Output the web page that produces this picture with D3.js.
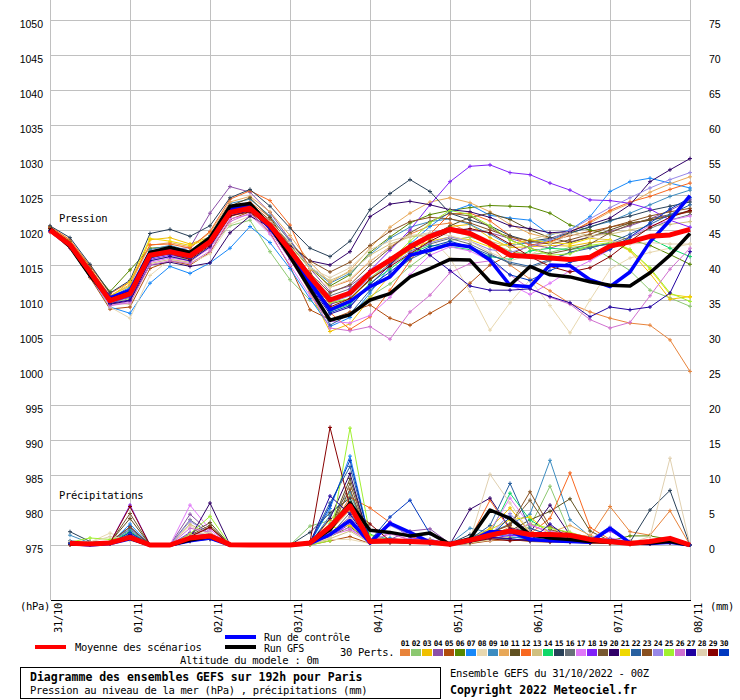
<!DOCTYPE html>
<html><head><meta charset="utf-8">
<script src="https://cdn.jsdelivr.net/npm/d3@7"></script>
<style>
body{margin:0;background:#fff}
svg{display:block}
text{font-family:"DejaVu Sans Mono",monospace;fill:#000}
</style>
</head><body><svg id="c" width="740" height="700"></svg>
<script>
// ---------- DATA ----------
const steps = [0,6,12,18,24,30,36,42,48,54,60,66,72,78,84,90,96,102,108,114,120,126,132,138,144,150,156,162,168,174,180,186,192];
const dayHours = [0,24,48,72,96,120,144,168,192];
const dayLabels = ["31/10","01/11","02/11","03/11","04/11","05/11","06/11","07/11","08/11"];
const leftTicks = [975,980,985,990,995,1000,1005,1010,1015,1020,1025,1030,1035,1040,1045,1050];
const rightTicks = [0,5,10,15,20,25,30,35,40,45,50,55,60,65,70,75];
const pertNames = ["01","02","03","04","05","06","07","08","09","10","11","12","13","14","15","16","17","18","19","20","21","22","23","24","25","26","27","28","29","30"];
const pertColors = ["#e8833a","#8cc870","#f0c000","#8c50a8","#b04c0c","#588800","#1888f8","#e8d8b0","#3c8cc0","#e8a858","#605020","#f86820","#d0c080","#10d868","#284058","#687078","#e078f8","#8020f8","#785830","#300068","#f0d800","#2860a0","#885020","#9888e8","#a0f030","#d070d0","#2000a0","#e0d0b0","#880000","#0038c0"];

const meanPressure = [1020.0,1017.9,1014.0,1009.9,1010.9,1016.4,1016.9,1016.3,1018.3,1022.5,1023.1, 1020.7,1017.1,1013.3,1010.0,1011.0,1013.9,1015.7,1017.6,1019.1,1020.1,1019.5, 1018.1,1016.4,1016.2,1016.0,1015.8,1016.1,1017.7,1018.3,1019.1,1019.3,1020.1];
const controlPressure = [1020.1,1017.8,1013.7,1010.3,1011.4,1016.8,1017.3,1016.6,1018.6,1023.0,1023.5, 1020.4,1016.5,1012.5,1008.6,1009.8,1011.9,1013.3,1016.4,1017.1,1018.0,1017.6, 1015.7,1012.1,1011.9,1015.0,1014.9,1012.9,1011.9,1014.0,1018.3,1021.4,1024.9];
const gfsPressure = [1020.2,1017.6,1013.5,1010.0,1011.0,1016.8,1017.5,1016.8,1018.9,1023.4,1023.8, 1020.6,1016.2,1011.6,1007.1,1007.9,1010.0,1010.9,1013.3,1014.5,1015.8,1015.7, 1012.6,1012.1,1014.8,1013.6,1013.3,1012.6,1012.1,1012.0,1013.9,1016.4,1019.5];

const pertPressure = [
 [1020.3,1018.2,1014.3,1010.2,1011.5,1017.0,1017.5,1017.0,1019.0,1023.2,1024.0, 1021.8,1018.5,1014.8,1011.8,1012.8,1015.5,1017.6,1019.4,1020.6,1021.0,1019.6, 1017.8,1015.0,1013.0,1011.3,1009.5,1008.3,1007.4,1006.7,1006.4,1004.3,999.8],
 [1019.8,1017.6,1013.8,1009.6,1010.2,1015.6,1016.2,1015.8,1017.6,1020.6,1021.4, 1016.9,1012.9,1010.0,1007.2,1008.0,1010.5,1012.3,1014.8,1016.9,1018.5,1019.0, 1018.2,1017.0,1016.5,1016.8,1017.5,1017.8,1016.0,1014.2,1011.4,1010.3,1009.1],
 [1020.1,1018.1,1014.5,1010.6,1012.0,1018.6,1018.9,1018.0,1019.0,1022.8,1023.0, 1020.4,1016.2,1011.0,1005.5,1006.6,1010.2,1013.5,1016.0,1018.6,1020.5,1020.8, 1018.9,1017.5,1017.6,1017.8,1017.7,1018.2,1018.5,1017.0,1013.8,1010.1,1010.5],
 [1019.9,1017.7,1013.6,1009.4,1010.6,1016.5,1017.2,1017.5,1022.4,1026.2,1025.4, 1022.5,1018.6,1014.5,1011.2,1012.0,1014.2,1016.0,1017.8,1019.5,1020.3,1020.0, 1019.6,1018.8,1018.0,1017.4,1018.3,1019.0,1019.8,1020.6,1021.6,1022.8,1024.3],
 [1019.7,1017.4,1013.2,1008.7,1009.0,1014.5,1015.6,1015.0,1016.8,1021.5,1022.6, 1019.6,1014.8,1008.6,1007.2,1008.3,1009.3,1007.4,1006.4,1008.1,1009.7,1012.4, 1015.0,1016.5,1017.8,1018.4,1019.2,1019.8,1020.4,1021.0,1021.4,1022.0,1022.6],
 [1020.3,1018.4,1014.8,1011.2,1014.3,1017.4,1017.6,1016.8,1018.2,1022.0,1022.8, 1020.9,1017.8,1014.6,1012.0,1013.6,1016.8,1019.0,1021.0,1022.2,1022.8,1023.2, 1023.5,1023.4,1023.3,1022.4,1020.7,1020.0,1019.4,1018.6,1017.8,1016.5,1015.1],
 [1019.9,1017.5,1013.4,1009.0,1008.1,1012.4,1014.8,1013.8,1015.3,1017.4,1020.5, 1018.2,1014.5,1010.2,1006.2,1007.5,1011.0,1014.8,1018.0,1020.5,1022.6,1023.6, 1022.1,1021.7,1021.4,1019.3,1020.0,1021.9,1025.5,1026.9,1027.4,1026.7,1026.0],
 [1020.0,1017.8,1013.6,1009.0,1007.4,1013.5,1015.8,1015.2,1016.6,1020.8,1022.0, 1019.9,1016.6,1013.4,1011.8,1013.0,1015.6,1017.5,1019.2,1019.0,1016.0,1011.2, 1005.7,1009.6,1012.9,1009.2,1005.3,1010.0,1014.4,1016.0,1016.8,1017.4,1018.0],
 [1020.2,1018.0,1014.2,1010.4,1011.8,1017.2,1017.8,1017.0,1019.2,1023.8,1024.4, 1022.0,1018.4,1014.8,1012.4,1013.8,1016.5,1018.8,1020.4,1021.2,1021.6,1020.8, 1019.4,1017.8,1018.2,1018.6,1019.5,1020.5,1021.2,1022.4,1023.6,1024.8,1025.7],
 [1020.4,1018.5,1014.6,1010.6,1012.2,1017.8,1018.2,1017.6,1019.6,1024.0,1024.8, 1022.6,1019.2,1015.4,1012.5,1014.2,1017.4,1020.4,1022.4,1024.0,1024.6,1023.9, 1022.6,1020.8,1019.5,1018.8,1019.8,1021.0,1022.6,1023.8,1025.4,1026.6,1027.6],
 [1020.0,1017.9,1014.0,1009.8,1010.4,1016.0,1016.8,1016.2,1018.6,1023.4,1024.6, 1021.8,1017.6,1013.0,1009.4,1010.2,1012.8,1015.2,1017.2,1019.0,1020.6,1021.8, 1022.4,1021.5,1020.0,1018.9,1018.2,1019.0,1020.0,1021.0,1021.4,1022.0,1022.8],
 [1020.5,1018.6,1014.9,1010.9,1012.6,1017.9,1018.0,1017.4,1019.8,1024.4,1025.6, 1024.2,1020.7,1014.2,1008.2,1005.8,1007.6,1011.4,1015.6,1019.4,1022.3,1022.4, 1021.3,1019.2,1017.8,1018.2,1019.6,1021.2,1022.8,1024.0,1024.8,1025.8,1026.7],
 [1019.8,1017.6,1013.8,1009.6,1009.4,1015.2,1015.8,1015.4,1017.6,1021.8,1023.2, 1021.0,1017.8,1014.4,1012.8,1014.0,1016.4,1018.0,1019.0,1019.4,1019.8,1019.2, 1018.4,1017.6,1018.6,1019.4,1019.8,1019.2,1019.4,1020.0,1020.6,1020.8,1021.2],
 [1020.1,1018.0,1014.1,1010.2,1011.6,1016.9,1017.4,1016.8,1018.4,1022.6,1023.3, 1020.6,1016.4,1012.2,1008.4,1009.4,1012.4,1014.4,1016.6,1017.8,1017.6,1017.2, 1016.2,1015.8,1017.0,1017.4,1017.2,1017.6,1018.0,1018.6,1018.8,1017.4,1016.2],
 [1020.6,1018.9,1015.1,1011.0,1012.8,1019.5,1020.1,1019.1,1020.6,1024.6,1025.8, 1023.4,1020.3,1017.4,1016.2,1018.4,1022.9,1025.2,1027.2,1025.5,1022.4,1021.4, 1020.6,1019.2,1018.4,1018.8,1019.6,1020.4,1021.4,1022.0,1022.8,1023.4,1024.0],
 [1019.9,1017.8,1013.9,1010.0,1011.0,1016.2,1016.6,1016.0,1018.0,1022.2,1023.0, 1020.8,1017.2,1013.6,1010.6,1011.6,1014.2,1015.8,1017.0,1018.0,1018.8,1018.0, 1016.6,1015.2,1014.6,1015.6,1016.8,1017.6,1018.0,1019.0,1020.2,1021.4,1022.2],
 [1019.8,1017.5,1013.5,1009.2,1009.8,1015.4,1016.0,1015.6,1017.4,1021.6,1022.2, 1019.4,1015.0,1010.6,1007.0,1006.7,1007.8,1010.4,1013.6,1016.4,1017.6,1017.0, 1015.6,1012.2,1010.8,1012.4,1014.2,1015.6,1017.2,1019.0,1020.6,1021.4,1022.0],
 [1019.9,1017.7,1013.9,1009.7,1010.4,1015.8,1016.4,1015.9,1018.0,1022.6,1023.6, 1020.2,1016.0,1011.8,1009.2,1011.4,1014.2,1017.1,1020.0,1023.6,1026.9,1029.1, 1029.3,1028.2,1027.9,1026.7,1025.7,1024.3,1024.2,1023.8,1023.0,1021.4,1020.4],
 [1020.2,1018.1,1014.3,1010.3,1011.2,1016.6,1017.0,1016.4,1018.4,1022.6,1023.4, 1021.2,1017.6,1013.8,1011.0,1012.2,1015.0,1017.4,1019.6,1021.2,1022.4,1022.0, 1020.4,1018.6,1017.4,1016.6,1017.2,1018.0,1019.6,1020.8,1021.6,1022.2,1022.6],
 [1019.8,1017.6,1013.6,1009.4,1009.9,1015.0,1015.4,1014.8,1015.3,1019.6,1022.0, 1020.4,1017.8,1015.6,1015.0,1016.9,1021.9,1023.7,1024.1,1023.6,1022.9,1022.6, 1021.8,1020.6,1020.2,1019.6,1019.8,1020.8,1021.7,1023.6,1026.9,1028.6,1030.2],
 [1020.1,1018.0,1014.2,1010.4,1012.6,1018.8,1018.4,1017.8,1018.8,1022.4,1022.8, 1020.2,1016.6,1012.4,1008.8,1010.0,1013.0,1015.0,1017.2,1018.4,1019.0,1018.6, 1017.6,1018.0,1018.6,1018.2,1018.0,1018.8,1018.6,1017.2,1014.4,1010.8,1010.4],
 [1020.0,1017.8,1013.8,1009.8,1010.6,1016.2,1016.8,1016.2,1018.2,1022.8,1023.6, 1020.8,1016.8,1012.4,1006.4,1008.0,1011.4,1013.6,1015.8,1017.2,1018.0,1017.6, 1016.4,1015.4,1014.8,1015.8,1016.8,1017.4,1018.2,1019.4,1020.8,1022.2,1023.6],
 [1020.3,1018.3,1014.5,1010.5,1011.4,1016.8,1017.2,1016.6,1018.6,1023.0,1023.8, 1021.4,1018.0,1015.6,1014.0,1015.4,1017.8,1019.8,1021.2,1021.8,1021.6,1021.0, 1020.0,1019.0,1018.4,1018.0,1018.6,1019.4,1020.4,1021.2,1022.0,1022.6,1023.1],
 [1019.9,1017.8,1013.8,1009.6,1010.8,1016.4,1017.0,1016.4,1018.4,1022.6,1023.2, 1020.6,1016.8,1012.6,1009.6,1010.6,1013.2,1015.0,1016.8,1018.2,1019.0,1018.4, 1017.2,1016.8,1017.6,1018.6,1020.0,1021.6,1023.2,1024.6,1026.0,1027.2,1028.2],
 [1020.2,1018.2,1014.0,1010.0,1011.2,1016.8,1017.4,1016.6,1018.6,1022.8,1023.2, 1020.4,1016.6,1012.6,1009.6,1010.2,1013.0,1015.6,1018.4,1021.0,1022.8,1022.2, 1020.6,1018.6,1017.4,1016.4,1016.6,1017.8,1018.2,1017.2,1014.6,1011.0,1009.8],
 [1019.7,1017.4,1013.4,1009.2,1009.6,1015.0,1015.6,1015.2,1017.0,1021.2,1022.4, 1019.8,1015.8,1011.2,1006.0,1005.6,1006.2,1004.4,1008.3,1010.7,1013.9,1015.2, 1015.6,1013.6,1011.6,1010.4,1009.4,1007.2,1006.0,1006.8,1010.6,1014.4,1017.4],
 [1020.0,1017.7,1013.7,1009.5,1010.0,1015.6,1016.2,1015.6,1017.6,1022.0,1022.8, 1020.0,1016.2,1012.0,1008.0,1009.0,1012.2,1015.0,1017.8,1016.4,1014.2,1012.0, 1011.4,1011.4,1011.6,1010.5,1009.6,1007.6,1009.0,1008.6,1009.0,1011.0,1016.9],
 [1020.1,1018.0,1014.2,1010.1,1010.8,1016.6,1017.2,1016.6,1018.4,1022.4,1023.0, 1021.2,1018.2,1014.6,1013.2,1014.6,1017.2,1018.4,1019.2,1019.6,1019.2,1018.4, 1016.8,1015.6,1016.4,1018.0,1019.4,1019.0,1018.4,1018.0,1018.2,1018.0,1018.0],
 [1020.2,1018.1,1014.1,1010.0,1010.8,1016.4,1016.6,1015.8,1017.8,1022.0,1022.6, 1020.4,1016.8,1012.8,1009.0,1010.2,1013.0,1014.8,1016.6,1018.4,1019.8,1020.2, 1019.6,1018.0,1016.2,1014.8,1014.0,1014.6,1016.2,1018.4,1020.4,1021.8,1022.8],
 [1019.9,1017.7,1013.7,1009.7,1010.6,1016.0,1016.6,1016.0,1018.0,1022.4,1023.2, 1020.6,1016.6,1012.4,1008.2,1009.2,1012.0,1014.0,1016.2,1017.6,1018.4,1017.6, 1016.0,1013.6,1012.8,1014.2,1015.4,1016.0,1017.2,1019.0,1021.0,1023.0,1024.6]
];

// precipitation (mm), from +6h to +192h
const meanPrecip = [0.25,0.15,0.3,1.1,0,0,1.0,1.3, 0.05,0,0,0,0.3,2.6,5.6,0.5, 0.6,0.5,0.4,0.1,0.7,1.4,2.0,1.5, 1.5,1.4,0.8,0.5,0.2,0.5,0.95,0];
const controlPrecip = [0.2,0,0.2,0.9,0,0,0.6,1.0, 0,0,0,0,0.2,1.5,3.5,0.3, 3.1,1.8,0.4,0.1,0.6,1.9,1.9,0.8, 0.6,0.5,0.4,2.4,0.3,0.2,0.4,0];
const gfsPrecip = [0.1,0.1,0.3,1.0,0,0,0.7,1.2, 0,0,0,0,0.3,2.2,6.0,2.1, 1.8,1.3,1.7,0.1,0.9,5.0,3.8,1.5, 1.0,0.8,0.5,0.6,0.2,0.3,0.5,0];
const pertPrecip = [
 [0.3,0.2,0.4,1.2,0,0,0.8,1.5, 0,0,0,0,0.2,2.0,5.0,0.6, 0.4,0.3,0.5,0.1,0.6,1.4,2.2,2.0, 0.8,1.6,1.2,5.5,1.9,1.4,4.9,0],
 [0.2,0.1,0.3,0.9,0,0,0.6,1.4, 0,0,0,0,2.7,3.5,7.2,0.8, 0.5,0.4,0.6,0,0.4,1.0,1.8,2.6, 8.4,1.6,0.8,0.4,0.3,0.2,0.3,0],
 [0.1,0.2,0.5,1.4,0,0,0.9,1.1, 0,0,0,0,0.3,3.6,5.8,0.4, 0.6,0.5,0.3,0.1,0.8,2.4,5.3,1.8, 1.2,0.9,0.5,0.3,0.2,0.6,0.8,0],
 [0.2,0.3,0.4,2.2,0,0,4.4,1.8, 0,0,0,0,0.1,1.6,4.0,0.3, 0.8,2.0,2.3,0.2,0.5,1.2,1.6,1.4, 1.0,0.8,0.6,0.8,0.3,0.2,0.5,0],
 [0,0.1,0.2,0.8,0,0,0.5,0.9, 0,0,0,0,0,0.6,1.2,0.2, 0.3,0.2,0.4,0,0.2,0.6,0.8,0.5, 0.4,0.6,0.3,0.2,0.1,0.3,0.4,0],
 [0.3,0.2,0.3,1.6,0,0,0.7,1.2, 0,0,0,0,0.4,1.2,2.6,0.5, 0.7,0.4,0.6,0.1,0.3,0.8,1.0,1.2, 0.6,0.5,0.7,0.6,1.3,1.3,0.8,0],
 [0.5,0.2,0.2,3.0,0,0,1.2,1.6, 0,0,0,0,0.3,5.2,12.7,0.6, 1.0,0.5,0.4,0.1,0.6,1.6,1.2,0.8, 1.4,0.9,0.4,0.7,0.3,0.4,0.6,0],
 [0.2,0.4,1.7,0.6,0,0,2.8,1.0, 0,0,0,0,0,0.8,0.8,0.2, 0.4,0.3,0.2,0,0.3,0.7,0.9,0.6, 0.8,1.8,1.0,0.5,0.2,0.3,0.4,0],
 [1.4,0.3,0.2,2.4,0,0,1.4,1.3, 0,0,0,0,0.2,4.2,7.6,0.4, 0.6,0.8,0.6,0.2,2.4,1.8,3.0,4.4, 12.1,3.6,1.2,0.6,0.4,0.3,0.5,0],
 [0.3,0.2,0.3,1.8,0,0,1.0,0.9, 0,0,0,0,0.1,1.8,3.4,0.7, 0.5,0.3,0.8,0.1,0.4,1.2,2.6,1.6, 1.8,2.8,1.4,0.5,0.6,0.4,0.8,0],
 [0.2,0.1,0.4,3.8,0,0,1.6,3.2, 0,0,0,0,0.2,2.4,9.5,0.6, 0.4,0.3,0.5,0,0.8,1.4,2.0,3.6, 4.8,6.6,2.0,0.6,0.3,0.2,0.4,0],
 [0.2,0.3,0.2,1.4,0,0,0.8,1.2, 0,0,0,0,0,2.2,6.8,5.3, 3.2,1.2,0.6,0.1,0.9,6.4,2.2,1.6, 3.8,10.3,2.5,0.8,0.4,0.3,0.6,0],
 [0.1,0.2,0.6,1.0,0,0,3.0,1.4, 0,0,0,0,0.1,0.9,2.0,0.3, 0.4,0.6,0.4,0.1,0.3,0.9,1.2,2.4, 1.4,0.8,0.6,0.4,0.2,0.5,0.7,0],
 [0.3,0.4,0.3,2.0,0,0,1.2,1.0, 0,0,0,0,0.4,3.0,6.2,1.5, 0.8,0.4,0.5,0,0.4,1.6,7.4,3.6, 1.8,1.4,0.8,0.6,0.3,0.4,0.5,0],
 [1.9,0.5,0.3,1.6,0,0,0.6,0.8, 0,0,0,0,1.8,4.6,6.7,0.4, 0.5,0.3,0.4,0.2,1.5,1.2,0.8,0.6, 0.5,0.4,0.3,0.6,0.4,5.0,7.8,0],
 [0.4,0.2,0.2,1.2,0,0,3.6,1.6, 0,0,0,0,0.3,1.4,4.6,0.5, 0.6,0.4,0.3,0.1,0.5,1.0,0.7,0.9, 1.2,1.0,0.5,0.4,0.2,0.3,0.5,0],
 [0.2,0.3,0.2,0.9,0,0,5.7,2.2, 0,0,0,0,0.1,1.8,2.4,0.4, 1.8,0.6,0.5,0.1,0.6,2.0,6.7,2.8, 2.0,1.2,0.6,1.0,0.5,0.4,0.6,0],
 [0.3,0.2,0.3,5.7,0,0,1.8,1.4, 0,0,0,0,0.2,1.2,3.0,0.6, 3.3,1.0,0.8,0.2,0.5,0.9,1.4,1.1, 1.3,1.0,0.7,2.0,0.4,0.3,0.5,0],
 [0.2,0.1,0.3,4.5,0,0,1.4,2.8, 0,0,0,0,0.2,2.2,8.8,0.5, 0.4,0.3,0.6,0,0.6,1.6,3.0,6.4, 2.2,1.4,0.8,0.4,0.2,0.3,0.4,0],
 [0.1,0.2,0.4,2.6,0,0,1.0,6.0, 0,0,0,0,0.3,3.8,10.2,0.3, 0.5,0.4,0.2,0.1,5.1,6.7,2.4,1.8, 5.7,1.4,0.6,0.5,0.2,0.3,0.4,0],
 [0.2,0.3,0.2,1.3,0,0,1.1,1.0, 0,0,0,0,0.2,2.4,2.8,0.4, 0.6,0.5,0.7,0.1,0.9,2.2,3.6,4.0, 1.6,1.0,0.5,0.4,0.3,0.2,0.6,0],
 [0.6,0.3,0.2,1.8,0,0,0.8,1.2, 0,0,0,0,0.4,6.0,11.2,0.8, 0.6,0.4,0.5,0.2,0.8,2.8,8.8,2.4, 1.4,0.8,0.5,0.9,0.3,0.4,0.5,0],
 [0.3,0.2,0.4,2.6,0,0,1.2,2.6, 0,0,0,0,0.1,2.0,8.0,0.4, 0.5,0.6,0.4,0,0.6,1.8,2.8,7.6, 2.6,1.6,0.7,0.4,0.3,0.2,0.4,0],
 [0.2,0.3,0.5,1.6,0,0,3.4,1.6, 0,0,0,0,0.1,1.6,3.2,0.6, 2.8,1.4,1.8,0.2,0.6,1.4,4.5,1.4, 1.2,0.9,0.8,2.6,0.4,0.6,0.8,0],
 [0.4,1.0,0.8,1.4,0,0,1.6,4.1, 0,0,0,0,0,0.6,16.7,1.4, 0.5,0.3,0.6,0.1,0.4,1.2,2.0,3.0, 2.4,1.8,1.0,0.5,0.3,0.4,0.5,0],
 [0.2,0.2,0.3,1.1,0,0,2.4,1.8, 0,0,0,0,0.2,1.4,2.2,0.5, 1.6,0.8,0.6,0.1,0.6,1.6,2.0,3.0, 1.6,1.4,0.9,0.8,0.4,0.5,0.9,0],
 [0.3,0.1,0.2,1.5,0,0,0.6,0.9, 0,0,0,0,0.3,7.0,4.4,0.3, 0.4,0.3,0.2,0.1,0.4,1.1,0.9,0.6, 3.0,0.8,0.4,0.5,0.3,0.2,0.6,0],
 [0.5,0.4,1.2,0.8,0,0,1.4,1.8, 0,0,0,0,0.2,1.0,3.8,0.4, 0.6,0.4,0.3,0.1,0.8,10.1,6.0,1.8, 0.8,0.6,0.4,0.6,0.3,1.2,12.4,0],
 [0.1,0.2,0.3,5.5,0,0,1.2,2.5, 0,0,0,0,0.4,16.8,5.4,3.0, 0.6,0.4,0.3,0,0.4,0.9,0.6,0.8, 0.5,0.4,0.3,0.2,0.1,0.2,0.3,0],
 [0.2,0.1,0.2,1.8,0,0,0.7,1.1, 0,0,0,0,0.3,5.6,12.1,0.6, 4.0,6.4,1.6,0.2,0.6,1.2,4.0,1.6, 1.0,0.6,0.4,0.5,0.3,0.4,0.6,0]
];

// ---------- CHART ----------
const svg = d3.select("#c");
const x = d3.scaleLinear().domain([0,192]).range([50,690]);
const yP = d3.scaleLinear().domain([975,1050]).range([545,20]);
const yR = d3.scaleLinear().domain([0,75]).range([545,20]);
const GRID = "#c0c0c0";

// horizontal grid
const hg = svg.append("g").attr("transform","translate(50,0)")
  .call(d3.axisLeft(yP).tickValues(leftTicks).tickSize(-640).tickFormat(""));
hg.select(".domain").remove();
hg.selectAll("line").attr("stroke",GRID).attr("shape-rendering","crispEdges");

// vertical grid + bottom axis line
const vg = svg.append("g").attr("transform","translate(0,600)")
  .call(d3.axisBottom(x).tickValues(dayHours).tickSize(-600).tickSizeOuter(0).tickFormat(""));
vg.selectAll(".tick line").attr("stroke",GRID).attr("shape-rendering","crispEdges");
vg.select(".domain").attr("stroke","#000").attr("shape-rendering","crispEdges");

// left labels
const la = svg.append("g").attr("transform","translate(50,0)")
  .call(d3.axisLeft(yP).tickValues(leftTicks).tickSize(0).tickPadding(7).tickFormat(d3.format("d")));
la.select(".domain").remove();
la.selectAll("text").attr("dy","0.72em").style("font-family","'Liberation Sans',Arial,sans-serif").style("font-size","10.5px");
// right labels
const ra = svg.append("g").attr("transform","translate(690,0)")
  .call(d3.axisRight(yR).tickValues(rightTicks).tickSize(0).tickPadding(19).tickFormat(d3.format("d")));
ra.select(".domain").remove();
ra.selectAll("text").attr("dy","0.72em").style("font-family","'Liberation Sans',Arial,sans-serif").style("font-size","10.5px");

// date labels
svg.append("g").selectAll("text").data(dayHours).join("text")
  .attr("transform",d=>`translate(${x(d)+11.5},603) rotate(-90)`)
  .attr("text-anchor","end")
  .style("font-size","10.5px").style("letter-spacing","-0.3px")
  .text((d,i)=>dayLabels[i]);

const mono = (sel,size)=>sel.style("font-size",(size||10.5)+"px").style("letter-spacing","-0.3px");
mono(svg.append("text").attr("x",20).attr("y",609.5).text("(hPa)"));
mono(svg.append("text").attr("x",710).attr("y",609.5).text("(mm)"));
mono(svg.append("text").attr("x",59).attr("y",221.5).text("Pression"));
mono(svg.append("text").attr("x",59).attr("y",498.5).text("Précipitations"));

// lines
const lineP = d3.line().x((d,i)=>x(steps[i])).y(d=>yP(d));
const lineR = d3.line().x((d,i)=>x(steps[i+1])).y(d=>yR(d));
const cross = (px,py)=>`M${px-2},${py}H${px+2}M${px},${py-2}V${py+2}`;

const gm = svg.append("g");
pertPressure.forEach((arr,k)=>{
  gm.append("path").attr("d",lineP(arr)).attr("fill","none").attr("stroke",pertColors[k]).attr("stroke-width",1);
  gm.append("path").attr("d",arr.map((v,i)=>cross(x(steps[i]),yP(v))).join("")).attr("fill","none").attr("stroke",pertColors[k]).attr("stroke-width",1);
});
pertPrecip.forEach((arr,k)=>{
  gm.append("path").attr("d",lineR(arr)).attr("fill","none").attr("stroke",pertColors[k]).attr("stroke-width",1);
  gm.append("path").attr("d",arr.map((v,i)=>cross(x(steps[i+1]),yR(v))).join("")).attr("fill","none").attr("stroke",pertColors[k]).attr("stroke-width",1);
});

const thick = (d,color,w)=>svg.append("path").attr("d",d).attr("fill","none").attr("stroke",color).attr("stroke-width",w).attr("stroke-linejoin","round");
thick(lineP(controlPressure),"#0000ff",3.5);
thick(lineR(controlPrecip),"#0000ff",3.5);
thick(lineP(gfsPressure),"#000000",3.5);
thick(lineR(gfsPrecip),"#000000",3.5);
thick(lineP(meanPressure),"#ff0000",5);
thick(lineR(meanPrecip),"#ff0000",5);

// legend
svg.append("rect").attr("x",35).attr("y",645).attr("width",31).attr("height",4).attr("fill","#ff0000");
mono(svg.append("text").attr("x",75).attr("y",651).text("Moyenne des scénarios"));
svg.append("rect").attr("x",225).attr("y",635).attr("width",31).attr("height",4).attr("fill","#0000ff");
svg.append("rect").attr("x",225).attr("y",645).attr("width",31).attr("height",4).attr("fill","#000000");
mono(svg.append("text").attr("x",264).attr("y",640.5).text("Run de contrôle"),10);
mono(svg.append("text").attr("x",264).attr("y",651.5).text("Run GFS"),10);
mono(svg.append("text").attr("x",340).attr("y",656).text("30 Perts."));
mono(svg.append("text").attr("x",180).attr("y",664).text("Altitude du modele : 0m"));

const pl = svg.append("g");
pl.selectAll("rect").data(pertColors).join("rect")
  .attr("x",(d,i)=>400+i*11).attr("y",649).attr("width",10).attr("height",7).attr("fill",d=>d);
pl.selectAll("text").data(pertNames).join("text")
  .attr("x",(d,i)=>405+i*11).attr("y",646).attr("text-anchor","middle")
  .style("font-size","7.6px").style("font-weight","bold").style("letter-spacing","-0.2px").text(d=>d);

// title box
svg.append("rect").attr("x",20.5).attr("y",667.5).attr("width",420).attr("height",31).attr("fill","none").attr("stroke","#000").attr("shape-rendering","crispEdges");
svg.append("text").attr("x",30).attr("y",681).style("font-size","11.5px").style("font-weight","bold").text("Diagramme des ensembles GEFS sur 192h pour Paris");
mono(svg.append("text").attr("x",30).attr("y",694).text("Pression au niveau de la mer (hPa) , précipitations (mm)"));
mono(svg.append("text").attr("x",450).attr("y",676.5).text("Ensemble GEFS du 31/10/2022 - 00Z"));
svg.append("text").attr("x",450).attr("y",694).style("font-size","11.5px").style("font-weight","bold").text("Copyright 2022 Meteociel.fr");
</script>
</body></html>
